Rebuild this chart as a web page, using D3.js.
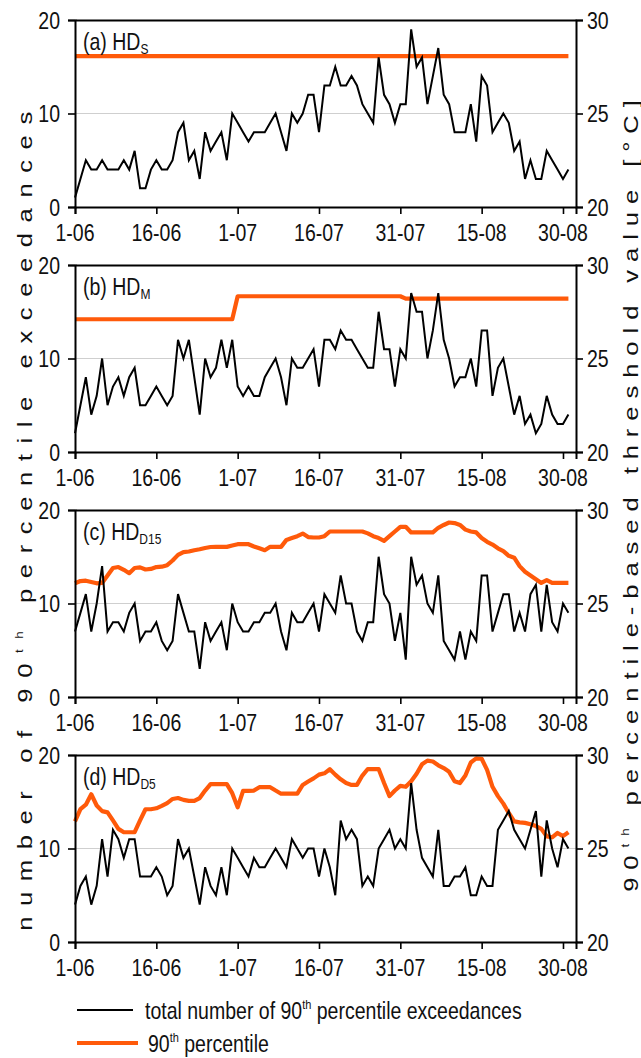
<!DOCTYPE html>
<html><head><meta charset="utf-8">
<script src="https://cdn.jsdelivr.net/npm/d3@7"></script>
<style>
body{margin:0;background:#fff}
svg{display:block}
text{font-family:"Liberation Sans",Arial,Helvetica,sans-serif;fill:#111}
</style>
</head><body>
<svg id="c" width="641" height="1058"></svg>
<script>
// ---------- data ----------
const tickDays   = [0, 15, 30, 45, 60, 75, 90];
const tickLabels = ["1-06", "16-06", "1-07", "16-07", "31-07", "15-08", "30-08"];
const leftTicks  = [0, 10, 20];
const rightTicks = [20, 25, 30];
const panelNames = ["(a) HD", "(b) HD", "(c) HD", "(d) HD"];
const panelSubs  = ["S", "M", "D15", "D5"];

// number of 90th percentile exceedances (one value per day, 1 June - 31 Aug)
const exceedS = [1,3,5,4,4,5,4,4,4,5, 4,6,2,2,4,5,4,4,5,8, 9,5,6,3,8,6,7,8,5,10,
  9,8,7,8,8,8,9,10,8,6, 10,9,10,12,12,8,13,13,15,13, 13,14,13,11,10,9,16,12,11,9,
  11,11,19,15,16,11,14,17,12,11, 8,8,8,11,7,14,13,8,9,10, 9,6,7,3,5,3,3,6,5,4, 3,4];
const exceedM = [2,5,8,4,6,10,5,7,8,6, 8,9,5,5,6,7,6,5,6,12, 10,12,8,4,10,8,9,12,9,12,
  7,6,7,6,6,8,9,10,8,5, 10,9,9,10,11,7,12,12,11,13, 12,12,11,10,9,9,15,11,11,7,
  11,10,17,15,15,10,13,17,12,10, 7,8,8,10,7,13,13,6,9,10, 7,4,6,3,4,2,3,6,4,3, 3,4];
const exceedD15 = [7,9,11,7,10,14,7,8,8,7, 9,10,6,7,7,8,6,5,6,11, 9,7,7,3,8,6,7,8,5,10,
  8,7,7,8,8,9,9,10,7,5, 9,8,8,9,10,7,11,10,9,13, 10,10,7,6,8,8,15,11,10,6,
  9,4,15,12,13,10,9,13,6,5, 4,7,4,7,6,13,13,7,9,11, 11,7,9,7,11,12,7,12,8,7, 10,9];
const exceedD5 = [4,6,7,4,6,11,7,12,11,9, 11,11,7,7,7,8,7,5,6,11, 9,10,7,4,8,6,5,8,5,10,
  9,8,7,9,8,8,9,10,9,8, 11,10,9,10,10,7,10,8,5,13, 11,12,11,6,7,6,10,11,12,10,
  11,10,17,12,9,8,7,12,6,6, 7,7,8,5,5,7,6,6,12,13, 14,12,11,10,12,14,7,13,10,8, 11,10];

// 90th percentile threshold [°C]
const pctS = [28.07,28.07,28.07,28.07,28.07,28.07,28.07,28.07,28.07,28.07,
  28.07,28.07,28.07,28.07,28.07,28.07,28.07,28.07,28.07,28.07,
  28.07,28.07,28.07,28.07,28.07,28.07,28.07,28.07,28.07,28.07,
  28.07,28.07,28.07,28.07,28.07,28.07,28.07,28.07,28.07,28.07,
  28.07,28.07,28.07,28.07,28.07,28.07,28.07,28.07,28.07,28.07,
  28.07,28.07,28.07,28.07,28.07,28.07,28.07,28.07,28.07,28.07,
  28.07,28.07,28.07,28.07,28.07,28.07,28.07,28.07,28.07,28.07,
  28.07,28.07,28.07,28.07,28.07,28.07,28.07,28.07,28.07,28.07,
  28.07,28.07,28.07,28.07,28.07,28.07,28.07,28.07,28.07,28.07, 28.07,28.07];
const pctM = [27.1,27.1,27.1,27.1,27.1,27.1,27.1,27.1,27.1,27.1,
  27.1,27.1,27.1,27.1,27.1,27.1,27.1,27.1,27.1,27.1,
  27.1,27.1,27.1,27.1,27.1,27.1,27.1,27.1,27.1,27.1,
  28.33,28.33,28.33,28.33,28.33,28.33,28.33,28.33,28.33,28.33,
  28.33,28.33,28.33,28.33,28.33,28.33,28.33,28.33,28.33,28.33,
  28.33,28.33,28.33,28.33,28.33,28.33,28.33,28.33,28.33,28.33,
  28.33,28.2,28.2,28.2,28.2,28.2,28.2,28.2,28.2,28.2,
  28.2,28.2,28.2,28.2,28.2,28.2,28.2,28.2,28.2,28.2,
  28.2,28.2,28.2,28.2,28.2,28.2,28.2,28.2,28.2,28.2, 28.2,28.2];
const pctD15 = [26.08,26.2,26.22,26.15,26.08,26.1,26.5,26.9,26.95,26.8,
  26.62,26.9,26.93,26.82,26.85,26.95,26.97,27.05,27.3,27.6,
  27.75,27.78,27.85,27.9,27.97,28.02,28.03,28.03,28.03,28.1,
  28.17,28.17,28.17,28.05,27.95,27.85,28.03,28.03,28.03,28.4,
  28.5,28.6,28.74,28.55,28.53,28.53,28.6,28.85,28.85,28.85,
  28.85,28.85,28.85,28.85,28.75,28.6,28.5,28.35,28.6,28.85,
  29.1,29.1,28.8,28.8,28.8,28.8,28.8,29.05,29.2,29.33,
  29.3,29.2,28.95,28.85,28.8,28.5,28.3,28.15,27.95,27.8,
  27.55,27.45,27.0,26.7,26.5,26.3,26.1,26.25,26.1,26.1, 26.1,26.1];
const pctD5 = [26.45,27.1,27.34,27.9,27.3,27.0,26.93,26.5,26.05,25.87,
  25.87,25.87,26.5,27.1,27.1,27.15,27.28,27.43,27.65,27.7,
  27.6,27.55,27.55,27.7,28.1,28.44,28.44,28.44,28.44,27.96,
  27.2,28.08,28.08,28.1,28.28,28.28,28.28,28.1,27.93,27.93,
  27.93,27.93,28.4,28.58,28.75,28.95,29.02,29.24,28.95,28.7,
  28.5,28.4,28.4,28.9,29.25,29.25,29.25,28.5,27.8,28.1,
  28.35,28.3,28.6,29.0,29.5,29.7,29.65,29.45,29.3,29.1,
  28.6,28.5,28.9,29.6,29.82,29.8,29.2,28.3,27.8,27.4,
  26.9,26.45,26.4,26.37,26.3,26.2,26.05,25.65,25.6,25.83, 25.66,25.87];

const exceedSeries = [exceedS, exceedM, exceedD15, exceedD5];
const pctSeries    = [pctS, pctM, pctD15, pctD5];

// ---------- drawing ----------
const svg = d3.select("#c");
const FS = 19.5, SY = 1.22;     // font size, vertical stretch of glyphs
const ORANGE = "#ff5a0a";
const x = d3.scaleLinear().domain([0, 92.4]).range([75, 576]);

function htext(g, px, py, anchor, size) {
  return g.append("text")
    .attr("transform", `translate(${px},${py}) scale(1,${SY})`)
    .attr("text-anchor", anchor)
    .style("font-size", (size || FS) + "px");
}

pctSeries.forEach((pct, i) => {
  const top = 20 + 245 * i, bottom = top + 187;
  const yL = d3.scaleLinear().domain([0, 20]).range([bottom, top]);
  const yR = d3.scaleLinear().domain([20, 30]).range([bottom, top]);
  const g = svg.append("g");

  // grid line at 10 / 25
  g.append("line").attr("x1", x(0)).attr("x2", x(92.4))
    .attr("y1", yL(10)).attr("y2", yL(10))
    .attr("stroke", "#cfcfcf").attr("stroke-width", 1.2);

  // percentile line (right axis)
  g.append("path").datum(pct)
    .attr("fill", "none").attr("stroke", ORANGE).attr("stroke-width", 4.2)
    .attr("stroke-linejoin", "round")
    .attr("d", d3.line().x((d, k) => x(k)).y(d => yR(d)));

  // exceedances line (left axis)
  g.append("path").datum(exceedSeries[i])
    .attr("fill", "none").attr("stroke", "#000").attr("stroke-width", 2)
    .attr("stroke-linejoin", "miter")
    .attr("d", d3.line().x((d, k) => x(k)).y(d => yL(d)));

  // axes
  const axL = d3.axisLeft(yL).tickValues(leftTicks).tickSize(7).tickFormat("");
  const axR = d3.axisRight(yR).tickValues(rightTicks).tickSize(7).tickFormat("");
  const axB = d3.axisBottom(x).tickValues(tickDays).tickSize(7).tickFormat("");
  const axT = d3.axisTop(x).tickValues([]).tickSize(0).tickSizeOuter(0);
  [g.append("g").attr("transform", `translate(${x(0)},0)`).call(axL),
   g.append("g").attr("transform", `translate(${x(92.4)},0)`).call(axR),
   g.append("g").attr("transform", `translate(0,${bottom})`).call(axB),
   g.append("g").attr("transform", `translate(0,${top})`).call(axT)]
    .forEach(a => {
      a.select(".domain").attr("stroke", "#000").attr("stroke-width", 2);
      a.selectAll(".tick line").attr("stroke", "#000").attr("stroke-width", 1.6);
    });

  // tick labels
  leftTicks.forEach(v => htext(g, 60, yL(v) + 0.358 * FS * SY, "end").text(v));
  rightTicks.forEach(v => htext(g, 587, yR(v) + 0.358 * FS * SY, "start").text(v));
  tickDays.forEach((d, k) => htext(g, x(d), bottom + 34, "middle").text(tickLabels[k]));

  // panel label
  const lab = htext(g, 83, top + 30, "start");
  lab.append("tspan").text(panelNames[i]);
  lab.append("tspan").attr("dy", 3).style("font-size", "12px").text(panelSubs[i]);
});

// rotated axis titles (letter-spaced)
function vtitle(cx, cy, parts, target) {
  const t = svg.append("text")
    .attr("text-anchor", "middle")
    .style("font-size", "21px");
  parts.forEach(p => {
    const s = t.append("tspan").text(p.t);
    if (p.sup) s.style("font-size", "11px").attr("dy", -9);
    if (p.after) s.attr("dy", 9);
  });
  const w0 = t.node().getComputedTextLength();
  const n = parts.reduce((a, p) => a + p.t.length, 0);
  const ls = (target / SY - w0) / n;
  t.style("letter-spacing", ls + "px");
  t.attr("transform", `translate(${cx},${cy}) rotate(-90) scale(${SY},1)`);
}
vtitle(32, 516, [{t: "number of 90"}, {t: "th", sup: true}, {t: " percentile exceedances", after: true}], 830);
vtitle(638, 492, [{t: "90"}, {t: "th", sup: true}, {t: " percentile-based threshold value [°C]", after: true}], 800);

// legend
const lg = svg.append("g");
lg.append("line").attr("x1", 77).attr("x2", 133).attr("y1", 1010).attr("y2", 1010)
  .attr("stroke", "#000").attr("stroke-width", 1.9);
lg.append("line").attr("x1", 77).attr("x2", 138).attr("y1", 1043).attr("y2", 1043)
  .attr("stroke", ORANGE).attr("stroke-width", 4.2);
const l1 = htext(lg, 145, 1019, "start");
l1.append("tspan").text("total number of 90");
l1.append("tspan").attr("dy", -8).style("font-size", "11px").text("th");
l1.append("tspan").attr("dy", 8).text(" percentile exceedances");
const l2 = htext(lg, 148, 1052, "start");
l2.append("tspan").text("90");
l2.append("tspan").attr("dy", -8).style("font-size", "11px").text("th");
l2.append("tspan").attr("dy", 8).text(" percentile");
</script>
</body></html>
